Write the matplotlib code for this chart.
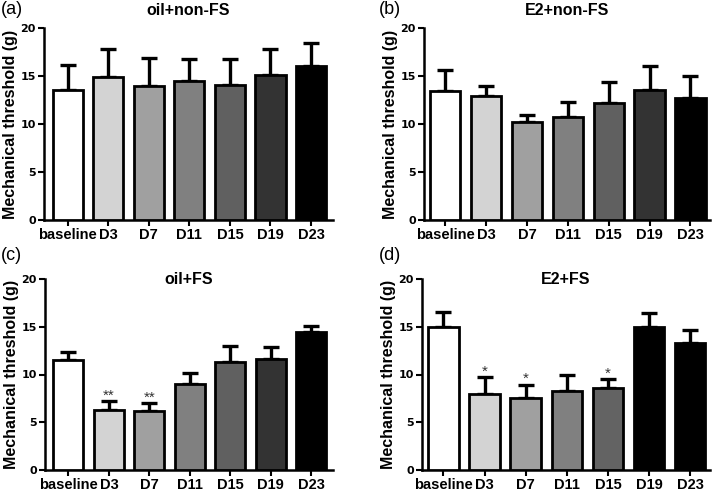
import matplotlib.pyplot as plt
import numpy as np

plt.rcParams['font.family'] = ['Liberation Sans', 'DejaVu Sans']

days = ['baseline', 'D3', 'D7', 'D11', 'D15', 'D19', 'D23']

# mean and upper error (SEM) per panel
a_mean = [13.5, 14.9, 14.0, 14.5, 14.1, 15.1, 16.0]
a_err = [2.6, 2.9, 2.9, 2.3, 2.7, 2.7, 2.4]
b_mean = [13.4, 12.95, 10.2, 10.7, 12.15, 13.5, 12.7]
b_err = [2.2, 1.05, 0.7, 1.6, 2.25, 2.5, 2.3]
c_mean = [11.55, 6.3, 6.2, 9.0, 11.3, 11.6, 14.4]
c_err = [0.85, 0.95, 0.8, 1.2, 1.7, 1.25, 0.65]
d_mean = [14.95, 7.95, 7.5, 8.3, 8.55, 15.0, 13.25]
d_err = [1.55, 1.75, 1.45, 1.6, 0.95, 1.4, 1.45]

c_stars = ['', '**', '**', '', '', '', '']
d_stars = ['', '*', '*', '', '*', '', '']

colors_main = ['white', '#d3d3d3', '#a0a0a0', '#808080', '#606060', '#333333', 'black']
colors_d = ['white', '#d3d3d3', '#a0a0a0', '#808080', '#636363', 'black', 'black']

W, H = 714, 494
fig = plt.figure(figsize=(W / 100, H / 100), dpi=100)


def px_axes(left, top, right, bottom):
    return fig.add_axes([left / W, 1 - bottom / H, (right - left) / W, (bottom - top) / H])


def panel(ax, means, errs, colors, title, title_y, stars=None):
    x = np.arange(len(days))
    ax.bar(x, means, width=0.74, color=colors, edgecolor='black', linewidth=2.0, zorder=3)
    ax.errorbar(x, means, yerr=[np.zeros(len(means)), errs], fmt='none', ecolor='black',
                elinewidth=2.4, capsize=5.5, capthick=2.4, zorder=2)
    if stars:
        for xi, m, e, s in zip(x, means, errs, stars):
            if s:
                ax.text(xi, m + e + 0.15, s, ha='center', va='baseline', fontsize=11,
                        color='#333333')
    ax.set_ylim(0, 20)
    ax.set_yticks([0, 5, 10, 15, 20])
    ax.set_xticks(x)
    ax.set_xticklabels(days, fontsize=10.5, fontweight='bold')
    ax.set_yticklabels(['0', '5', '10', '15', '20'], fontsize=8, fontweight='bold',
                       family='DejaVu Sans')
    ax.spines['top'].set_visible(False)
    ax.spines['right'].set_visible(False)
    ax.spines['left'].set_linewidth(1.8)
    ax.spines['bottom'].set_linewidth(1.8)
    ax.tick_params(axis='both', width=1.5, length=4, pad=2)
    ax.set_ylabel('Mechanical threshold (g)', fontsize=11.5, fontweight='bold', labelpad=1.5)
    ax.text(0.5, title_y, title, transform=ax.transAxes, ha='center', va='center',
            fontsize=11.5, fontweight='bold')


ax_a = px_axes(44, 28, 333, 220)
ax_a.set_xlim(-0.58, 6.54)
panel(ax_a, a_mean, a_err, colors_main, 'oil+non-FS', 1.09)

ax_b = px_axes(424, 28, 710, 220)
ax_b.set_xlim(-0.52, 6.48)
panel(ax_b, b_mean, b_err, colors_main, 'E2+non-FS', 1.09)

ax_c = px_axes(45, 279, 333, 470)
ax_c.set_xlim(-0.58, 6.54)
panel(ax_c, c_mean, c_err, colors_main, 'oil+FS', 1.0, c_stars)

ax_d = px_axes(422, 279, 710, 470)
ax_d.set_xlim(-0.52, 6.48)
panel(ax_d, d_mean, d_err, colors_d, 'E2+FS', 1.0, d_stars)

for label, px, py in [('(a)', 1, 10), ('(b)', 379, 10), ('(c)', 1, 256), ('(d)', 379, 256)]:
    fig.text(px / W, 1 - py / H, label, ha='left', va='center', fontsize=13)

fig.savefig('out.png', dpi=100)
